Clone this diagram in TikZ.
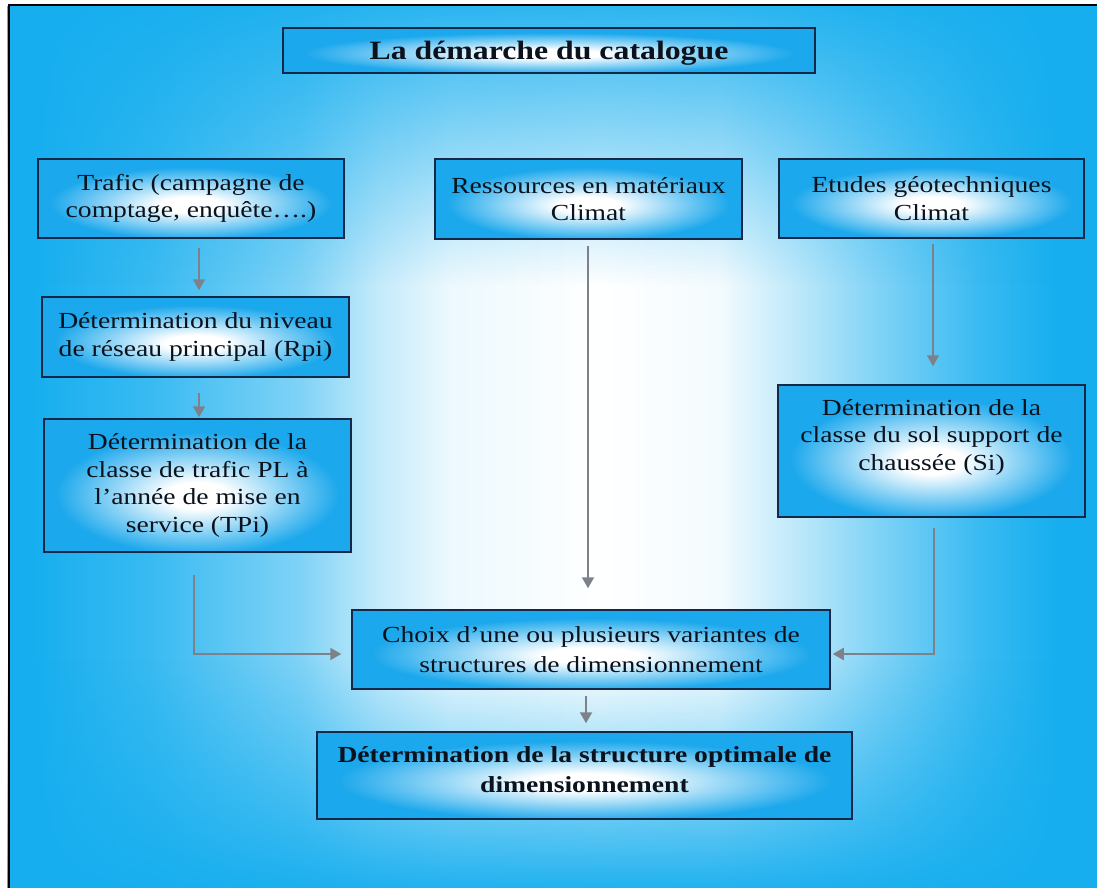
\documentclass[tikz,border=0pt]{standalone}
\usepackage{fontspec}
\setmainfont{Liberation Serif}[FakeStretch=1.2]
\usetikzlibrary{arrows.meta,calc,fadings}
\definecolor{bgblue}{RGB}{22,174,239}
\definecolor{boxblue}{RGB}{28,168,236}
\definecolor{boxline}{RGB}{22,40,72}
\definecolor{arrgray}{RGB}{125,130,138}
\definecolor{txt}{RGB}{10,18,30}
\colorlet{bga}{bgblue!85!white}
\colorlet{bgb}{bgblue!55!white}
\colorlet{bgc}{bgblue!25!white}
\colorlet{bgd}{bgblue!8!white}
\colorlet{bge}{bgblue!5!white}
\colorlet{bgf}{bgblue!25!white}
\colorlet{bgg}{bgblue!55!white}
\colorlet{bgh}{bgblue!85!white}
\colorlet{boxmid}{boxblue!45!white}
\pgfdeclarehorizontalshading{bgshade}{100bp}{color(0bp)=(bgblue); color(26bp)=(bgblue); color(31.5bp)=(bga); color(38.3bp)=(bgb); color(41.9bp)=(bgc); color(45.1bp)=(bgd); color(51.9bp)=(white); color(57.4bp)=(bge); color(60.5bp)=(bgf); color(64.7bp)=(bgg); color(69.3bp)=(bgh); color(72.9bp)=(bgblue); color(100bp)=(bgblue)}
\pgfdeclareradialshading{boxshade}{\pgfpoint{0bp}{-4bp}}{color(0bp)=(white); color(5bp)=(white); color(13bp)=(boxmid); color(23bp)=(boxblue); color(100bp)=(boxblue)}
\newcommand\boxfont{\fontsize{23}{27.5}\selectfont}
\newcommand\titlefont{\fontsize{26.5}{30}\selectfont\bfseries}
\newcommand\finalfont{\fontsize{23}{30}\selectfont\bfseries}
\begin{document}
\begin{tikzpicture}[x=1pt,y=-1pt,
  box/.style={draw=boxline, line width=1.5pt, shade, shading=boxshade, align=center, inner sep=0pt, text=txt, font=\boxfont},
  inbox/.style={align=center, inner sep=0pt, text=txt, font=\boxfont},
  arr/.style={draw=arrgray, line width=2pt, -{Triangle[length=11pt,width=12pt]}}]
\useasboundingbox (0,0) rectangle (1097,888);
\fill[white] (0,0) rectangle (1097,888);
\path[shade, shading=bgshade] (8.5,5.5) rectangle (1105,896);
\fill[bgblue, fill opacity=0.9, path fading=south] (8.5,5.5) rectangle (1105,285);
\fill[bgblue, fill opacity=0.95, path fading=north] (8.5,660) rectangle (1105,888);
\draw[line width=2pt, black] (8.5,896) -- (8.5,5.5) -- (1105,5.5);

\node[box, minimum width=532pt, minimum height=45pt,
  label={[inbox, font=\titlefont, yshift=-3pt]center:La démarche du catalogue}] (title) at (549,50.5) {};

\node[box, minimum width=306pt, minimum height=79pt] (trafic) at (191,198.5) {Trafic (campagne de\\comptage, enquête….)};
\node[box, minimum width=307pt, minimum height=80pt] (ress) at (588.5,199) {Ressources en matériaux\\Climat};
\node[box, minimum width=305pt, minimum height=79pt] (etudes) at (931.5,198.5) {Etudes géotechniques\\Climat};

\node[box, minimum width=307pt, minimum height=80pt] (rpi) at (195.5,337) {Détermination du niveau\\de réseau principal (Rpi)};
\node[box, minimum width=307pt, minimum height=133pt] (tpi) at (197.5,485.5) {Détermination de la\\classe de trafic PL à\\l’année de mise en\\service (TPi)};
\node[box, minimum width=307pt, minimum height=132pt,
  label={[inbox, yshift=14pt]center:Détermination de la\\classe du sol support de\\chaussée (Si)}] (si) at (931.5,451) {};

\node[box, minimum width=478pt, minimum height=79pt] (choix) at (591,649.5) {Choix d’une ou plusieurs variantes de\\[2pt]structures de dimensionnement};
\node[box, minimum width=535pt, minimum height=87pt,
  label={[inbox, font=\finalfont, yshift=6pt]center:Détermination de la structure optimale de\\dimensionnement}] (final) at (584.5,775.5) {};

\draw[arr, shorten <=9pt, shorten >=6pt] ($(trafic.south)+(8,0)$) -- ($(rpi.north)+(3.5,0)$);
\draw[arr, shorten <=15pt, shorten >=1pt] ($(rpi.south)+(3.5,0)$) -- ($(tpi.north)+(1.5,0)$);
\draw[arr, shorten <=5pt, shorten >=18pt] ($(etudes.south)+(1.5,0)$) -- ($(si.north)+(1.5,0)$);
\draw[arr, shorten <=6pt, shorten >=21pt] ($(ress.south)+(-0.5,0)$) -- ($(choix.north)+(-3,0)$);
\draw[arr, shorten <=6pt, shorten >=8pt] ($(choix.south)+(-5,0)$) -- ($(final.north)+(1.5,0)$);
\draw[arr, shorten <=22pt, shorten >=10pt] ($(tpi.south)+(-3.5,0)$) |- ($(choix.west)+(0,4.5)$);
\draw[arr, shorten <=10pt, shorten >=2pt] ($(si.south)+(2.5,0)$) |- ($(choix.east)+(0,4.5)$);
\end{tikzpicture}
\end{document}
